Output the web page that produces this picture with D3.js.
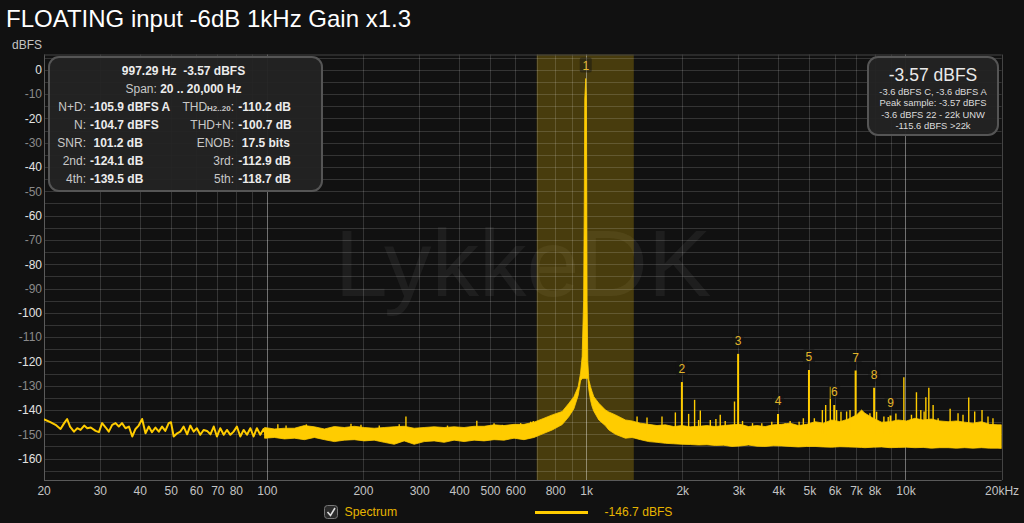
<!DOCTYPE html>
<html><head><meta charset="utf-8">
<script src="https://cdn.jsdelivr.net/npm/d3@7"></script>
<style>
html,body{margin:0;padding:0;background:#111111;}
svg{display:block;font-family:"Liberation Sans",Arial,Helvetica,sans-serif;}
</style></head><body>
<svg id="chart" width="1024" height="523"></svg>
<script>
// ---------------- DATA ----------------
const titleText = "FLOATING input -6dB 1kHz Gain x1.3";
const freqTicks = [20,30,40,50,60,70,80,90,100,200,300,400,500,600,700,800,900,1000,2000,3000,4000,5000,6000,7000,8000,9000,10000,20000];
const freqTickLabels = ["20","30","40","50","60","70","80","","100","200","300","400","500","600","","800","","1k","2k","3k","4k","5k","6k","7k","8k","","10k","20kHz"];
const dbTicks = [0,-10,-20,-30,-40,-50,-60,-70,-80,-90,-100,-110,-120,-130,-140,-150,-160];
const dbTickLabels = ["0","-10","-20","-30","-40","-50","-60","-70","-80","-90","-100","-110","-120","-130","-140","-150","-160"];

// low-frequency part of the spectrum (single trace)
const lfFreq = [20,21.0,21.8,22.6,23.2,23.7,24.2,24.9,25.5,26.1,26.8,27.4,28.1,29.1,29.8,30.5,31.3,32.0,32.8,33.6,34.4,35.2,36.1,37.0,37.9,38.8,39.7,40.7,41.7,42.7,43.7,44.8,45.9,47.0,48.1,49.3,50.1,51.1,52.4,53.6,54.9,56.3,57.6,59.0,60.4,61.9,63.4,65.0,66.6,68.2,69.8,71.5,73.3,75.0,76.9,78.7,80.6,82.6,84.6,86.7,88.8,90.9,93.1,95.4,97.7,100.1];
const lfDb = [-143.8,-145.0,-146.1,-147.8,-145.4,-143.7,-146.8,-148.9,-147.5,-148.2,-146.4,-147.5,-147.2,-148.6,-149.1,-145.4,-147.2,-148.9,-146.1,-145.4,-146.8,-145.4,-147.5,-146.8,-150.9,-147.8,-146.4,-143.7,-149.6,-146.8,-149.1,-147.2,-148.9,-146.8,-148.6,-145.4,-145.0,-150.9,-149.6,-148.9,-146.8,-150.0,-146.4,-148.9,-147.5,-150.2,-148.2,-148.6,-150.0,-146.8,-150.9,-147.5,-150.2,-148.2,-150.2,-148.9,-146.8,-150.9,-148.2,-150.2,-147.5,-150.9,-147.5,-150.2,-147.8,-151.6];

// dense part of the spectrum: upper and lower envelope of the noise band
const bandFreq = [98.4,105.7,113.6,122.0,131.1,140.9,151.5,162.7,174.9,187.9,201.9,216.9,233.2,250.6,269.3,289.4,311.0,334.2,359.2,385.9,414.7,445.9,479.0,514.8,553.2,594.5,638.8,686.5,737.7,783.2,841.4,883.3,915.5,944.1,960.5,971.6,982,987,990,997.29,1002,1004.5,1007,1012,1019.6,1032.2,1044.1,1057,1095.6,1149.7,1177.5,1235.5,1327.6,1392.6,1478.9,1570.6,1667.2,1770.6,1879.8,1995.7,2119.9,2250.3,2388.8,2536.8,2693.3,2859.5,3036.3,3224.2,3423.6,3635.5,3859.7,4099.3,4352.6,4620.6,4906.3,5209.6,5532.3,5873.2,6236.6,6620.9,7030.4,7287.5,7464.4,7927.2,8418.3,8936.5,9488.3,10074,10697,11358,12058,12808,13598,14437,15328,16278,17283,18350,19486,20000];
const bandHigh = [-147.2,-147.8,-147.5,-147.5,-146.4,-146.9,-147.8,-146.8,-147.2,-146.7,-147.2,-147.5,-147.2,-146.9,-146.7,-147.5,-147.2,-146.9,-147.2,-146.9,-147.2,-146.7,-146.7,-146.1,-146.4,-145.9,-145.9,-145.0,-143.4,-142.0,-140.6,-137.2,-134.5,-130.4,-124.8,-118,-95,-50,-12,-3.57,-12,-50,-95,-120,-127.6,-130.4,-132.5,-134.5,-137.2,-140.0,-140.8,-142.0,-144.1,-144.5,-145.4,-145.9,-146.4,-146.1,-146.8,-146.4,-146.9,-146.7,-146.4,-146.8,-146.4,-146.1,-145.9,-146.8,-146.4,-146.8,-146.1,-145.9,-145.4,-146.4,-145.9,-144.8,-145.4,-144.1,-144.8,-143.7,-142.0,-140.0,-141.3,-143.4,-145.0,-144.8,-144.1,-144.5,-143.4,-144.1,-143.7,-144.5,-144.8,-144.5,-145.0,-145.4,-144.8,-145.9,-146.1,-146.1];
const bandLow = [-151.6,-151.3,-151.9,-151.6,-152.2,-151.3,-152.2,-153.0,-152.4,-152.2,-152.7,-152.4,-153.3,-154.1,-152.7,-154.1,-153.0,-152.7,-153.3,-152.4,-153.0,-152.4,-152.7,-152.2,-152.4,-151.6,-152.2,-151.3,-149.6,-148.2,-146.0,-142.7,-139.5,-134.0,-128.0,-127,-127,-127,-127,-127,-127,-127,-127,-127,-131.7,-136.0,-138.6,-140.5,-144.1,-146.5,-148.2,-150.0,-151.6,-151.3,-152.2,-153.0,-153.3,-153.7,-153.9,-154.1,-154.2,-154.4,-154.3,-154.6,-154.5,-155.0,-154.8,-154.4,-154.9,-155.0,-154.7,-154.8,-155.0,-155.2,-155.0,-155.0,-155.2,-155.3,-155.1,-155.2,-155.3,-155.4,-155.5,-155.3,-155.2,-155.5,-155.4,-155.3,-155.5,-155.4,-155.7,-155.5,-155.5,-155.7,-155.5,-155.7,-155.5,-155.7,-155.7,-155.8];

// narrow spurious spikes above the noise band
const spikeFreq = [108.3,114.9,133,183.5,197.2,225.0,259.8,272.7,368,454.6,514.8,546.7,623.7,670.3,683,1443.6,1551,1728,1903,2094,2186,2250,2278,2448,2549,2630,2726,2915,3088,3319,3549,3814,4198,4353,4644,4789,5184,5492,5625,5816,6087,6281,6542,6705,7740,8120,8559,8830,9333,9885,10442,10824,11171,11439,11583,11834,12206,12654,13798,14609,15143,15780,16474,17367,18130,18793];
const spikeDb = [-145.9,-146.4,-145.9,-145.7,-146.1,-146.4,-145.9,-142.7,-146.4,-144.4,-145.4,-146.1,-145.4,-144.8,-144.5,-142.7,-143.1,-142.7,-141.0,-141.6,-135.8,-144.1,-140.2,-144.1,-143.7,-142.0,-144.5,-136.5,-144.5,-145.4,-145.4,-144.8,-145.4,-144.5,-144.8,-143.4,-143.4,-140.0,-137.9,-130.4,-140.0,-140.7,-140.6,-140.0,-141.3,-140.7,-142.7,-142.9,-141.4,-126.5,-142.0,-132.7,-140.0,-140.6,-134.7,-130.8,-137.9,-143.4,-139.5,-141.3,-142.0,-134.9,-140.6,-140.0,-142.7,-143.4];

// harmonics
const harmonicOrder = [1,2,3,4,5,6,7,8,9];
const harmonicFreq = [997.29,1994.6,2991.9,3989.2,4986.5,5983.7,6981.0,7978.3,8975.6];
const harmonicDb = [-3.57,-128.5,-116.9,-141.6,-123.5,-137.9,-123.7,-130.8,-142.3];

// highlighted band around the fundamental
const markerBand = [700, 1410];

// readouts
const infoTop = ["997.29 Hz  -3.57 dBFS"];
const infoSpanLabel = "Span: ";
const infoSpanValue = "20 .. 20,000 Hz";
const infoLeftLabels = ["N+D:","N:","SNR:","2nd:","4th:"];
const infoLeftValues = ["-105.9 dBFS A","-104.7 dBFS","101.2 dB","-124.1 dB","-139.5 dB"];
const infoRightLabels = ["THD","THD+N:","ENOB:","3rd:","5th:"];
const infoRightValues = ["-110.2 dB","-100.7 dB","17.5 bits","-112.9 dB","-118.7 dB"];
const levelMain = "-3.57 dBFS";
const levelLines = ["-3.6 dBFS C, -3.6 dBFS A","Peak sample: -3.57 dBFS","-3.6 dBFS 22 - 22k UNW","-115.6 dBFS >22k"];
const legendName = "Spectrum";
const legendValue = "-146.7 dBFS";
const watermark = "LykkeDK";

// ---------------- DRAW ----------------
const svg = d3.select("#chart");
const YEL = "#ffcc00";
const pL = 44, pR = 1001.6, pT = 54.5, pB = 480;
const x = d3.scaleLog().domain([20,20000]).range([43.6, 1001.6]);
const y = d3.scaleLinear().domain([6.3,-168.8]).range([pT, pB]);

svg.append("rect").attr("width",1024).attr("height",523).attr("fill","#111111");

svg.append("defs").append("clipPath").attr("id","plotclip")
  .append("rect").attr("x",pL).attr("y",pT).attr("width",pR-pL).attr("height",pB-pT);

// watermark
svg.append("text").attr("x",523).attr("y",296).attr("text-anchor","middle")
  .attr("font-size",95).attr("fill","rgba(255,255,255,0.055)").text(watermark);

// marker band
svg.append("rect").attr("x",x(markerBand[0])).attr("y",pT)
  .attr("width",x(markerBand[1])-x(markerBand[0])).attr("height",pB-pT)
  .attr("fill","rgba(255,204,0,0.23)");

// grid
const grid = svg.append("g");
const hLines = d3.range(5,-170,-5);
grid.selectAll("line.h").data(hLines).join("line")
  .attr("x1",pL).attr("x2",pR)
  .attr("y1",d=>Math.round(y(d))+0.5).attr("y2",d=>Math.round(y(d))+0.5)
  .attr("stroke","rgba(255,255,255,0.15)").attr("stroke-width",1);
grid.selectAll("line.v").data(freqTicks.filter(f=>f>20 && f<20000)).join("line")
  .attr("y1",pT).attr("y2",pB)
  .attr("x1",d=>Math.round(x(d))+0.5).attr("x2",d=>Math.round(x(d))+0.5)
  .attr("stroke",d=>(d===100||d===1000||d===10000)?"rgba(255,255,255,0.40)":"rgba(255,255,255,0.15)")
  .attr("stroke-width",1);

// frame
svg.append("line").attr("x1",pL+0.5).attr("x2",pL+0.5).attr("y1",pT).attr("y2",pB+0.5).attr("stroke","#5a5a5a");
svg.append("line").attr("x1",pL).attr("x2",pR).attr("y1",pB+0.5).attr("y2",pB+0.5).attr("stroke","#5a5a5a");
svg.append("line").attr("x1",pL).attr("x2",pR).attr("y1",pT+0.5).attr("y2",pT+0.5).attr("stroke","#444");
svg.append("line").attr("x1",Math.round(pR)+0.5).attr("x2",Math.round(pR)+0.5).attr("y1",pT).attr("y2",pB).attr("stroke","#444");

// spectrum
const plotG = svg.append("g").attr("clip-path","url(#plotclip)");
const lfData = lfFreq.map((f,i)=>[f,lfDb[i]]);
plotG.append("path").datum(lfData)
  .attr("d", d3.line().x(d=>x(d[0])).y(d=>y(d[1])))
  .attr("fill","none").attr("stroke",YEL).attr("stroke-width",2).attr("stroke-linejoin","round");

const bandData = bandFreq.map((f,i)=>({f, hi:bandHigh[i], lo:bandLow[i]}));
plotG.append("path").datum(bandData)
  .attr("d", d3.area().x(d=>x(d.f)).y0(d=>y(d.lo)).y1(d=>y(d.hi)))
  .attr("fill",YEL).attr("stroke",YEL).attr("stroke-width",0.8).attr("stroke-linejoin","round");

plotG.selectAll("line.spike").data(spikeFreq.map((f,i)=>[f,spikeDb[i]])).join("line")
  .attr("x1",d=>x(d[0])).attr("x2",d=>x(d[0]))
  .attr("y1",y(-150)).attr("y2",d=>y(d[1]))
  .attr("stroke",YEL).attr("stroke-width",1.4);

const harmData = harmonicOrder.map((n,i)=>({n, f:harmonicFreq[i], db:harmonicDb[i]}));
plotG.selectAll("line.harm").data(harmData.filter(d=>d.n>1)).join("line")
  .attr("x1",d=>x(d.f)).attr("x2",d=>x(d.f))
  .attr("y1",y(-150)).attr("y2",d=>y(d.db))
  .attr("stroke",YEL).attr("stroke-width",2);

// harmonic labels
const hl = svg.append("g");
harmData.forEach(d=>{
  const cx = x(d.f), cy = y(d.db) - 13;
  hl.append("rect").attr("x",cx-6).attr("y",cy-8).attr("width",12).attr("height",15).attr("rx",2)
    .attr("fill","rgba(17,17,17,0.45)");
  hl.append("text").attr("x",cx).attr("y",cy+4.3).attr("text-anchor","middle")
    .attr("font-size",12).attr("fill","#e3b52a").text(d.n);
});

// axes
const xAxis = svg.append("g").attr("transform",`translate(0,${pB})`)
  .call(d3.axisBottom(x).tickValues(freqTicks).tickFormat((d,i)=>freqTickLabels[i]).tickSize(0).tickPadding(6));
xAxis.select(".domain").remove();
xAxis.selectAll("text").attr("font-size",12).attr("fill","#c4c4c4").attr("font-family","Liberation Sans, Arial, sans-serif");

const yAxis = svg.append("g").attr("transform",`translate(${pL},0)`)
  .call(d3.axisLeft(y).tickValues(dbTicks).tickFormat((d,i)=>dbTickLabels[i]).tickSize(0).tickPadding(2));
yAxis.select(".domain").remove();
yAxis.selectAll("text").attr("font-size",12).attr("font-family","Liberation Sans, Arial, sans-serif")
  .attr("fill",d=>(d%20===0)?"#e2e2e2":"#8a8a8a");

svg.append("text").attr("x",42).attr("y",48.5).attr("text-anchor","end")
  .attr("font-size",12).attr("fill","#c4c4c4").text("dBFS");

// title
svg.append("text").attr("x",6).attr("y",27).attr("font-size",24).attr("fill","#ffffff").text(titleText);

// left info box
const ib = svg.append("g");
ib.append("rect").attr("x",49).attr("y",57).attr("width",273).attr("height",134).attr("rx",10)
  .attr("fill","#232323").attr("fill-opacity",0.96).attr("stroke","#555").attr("stroke-width",2);
ib.append("text").attr("x",183.5).attr("y",75.3).attr("text-anchor","middle").attr("font-size",12)
  .attr("font-weight","bold").attr("fill","#ececec").text(infoTop[0].replace("  ","\u00a0 "));
const spanT = ib.append("text").attr("x",183.5).attr("y",93.3).attr("text-anchor","middle").attr("font-size",12);
spanT.append("tspan").attr("fill","#c8c8c8").text(infoSpanLabel.trim()+"\u00a0");
spanT.append("tspan").attr("fill","#ececec").attr("font-weight","bold").text(infoSpanValue);
infoLeftLabels.forEach((lab,i)=>{
  const by = 111 + i*18;
  ib.append("text").attr("x",86).attr("y",by).attr("text-anchor","end").attr("font-size",12).attr("fill","#c8c8c8").text(lab);
  const v = infoLeftValues[i];
  ib.append("text").attr("x",v.startsWith("-")?90:93.5).attr("y",by).attr("font-size",12).attr("font-weight","bold").attr("fill","#ececec").text(v);
  const rt = ib.append("text").attr("x",234).attr("y",by).attr("text-anchor","end").attr("font-size",12).attr("fill","#c8c8c8");
  if (i===0) {
    rt.append("tspan").text("THD");
    rt.append("tspan").attr("font-size",8).attr("font-weight","bold").text("H2..20");
    rt.append("tspan").text(":");
  } else rt.text(infoRightLabels[i]);
  const rv = infoRightValues[i];
  ib.append("text").attr("x",rv.startsWith("-")?238.3:241.8).attr("y",by).attr("font-size",12).attr("font-weight","bold").attr("fill","#ececec").text(rv);
});

// right level box
const rb = svg.append("g");
rb.append("rect").attr("x",868).attr("y",57).attr("width",130).attr("height",78).attr("rx",10)
  .attr("fill","#232323").attr("fill-opacity",0.96).attr("stroke","#555").attr("stroke-width",2);
rb.append("text").attr("x",933).attr("y",80.5).attr("text-anchor","middle").attr("font-size",17.5).attr("fill","#eaeaea").text(levelMain);
levelLines.forEach((t,i)=>{
  rb.append("text").attr("x",933).attr("y",95 + i*11.3).attr("text-anchor","middle").attr("font-size",9.4).attr("fill","#dcdcdc").text(t);
});

// legend
const lg = svg.append("g");
lg.append("rect").attr("x",324.5).attr("y",505.5).attr("width",13).attr("height",13).attr("rx",3)
  .attr("fill","#2b2b2b").attr("stroke","#777");
lg.append("path").attr("d","M327.5,512 L330.5,515.5 L335,508").attr("fill","none").attr("stroke","#e0e0e0").attr("stroke-width",1.6);
lg.append("text").attr("x",344.5).attr("y",516).attr("font-size",12.3).attr("fill","#e6b400").text(legendName);
lg.append("line").attr("x1",535).attr("x2",588).attr("y1",512.5).attr("y2",512.5).attr("stroke",YEL).attr("stroke-width",3);
lg.append("text").attr("x",604.5).attr("y",516).attr("font-size",12.1).attr("fill","#e6b400").text(legendValue);
</script>
</body></html>
